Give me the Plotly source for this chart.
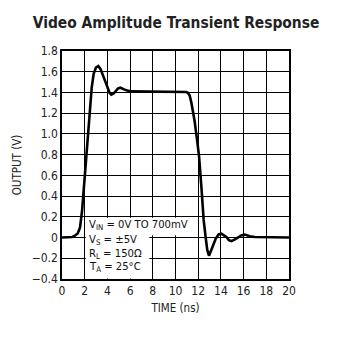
import plotly.graph_objects as go

# Data
time_ns = [0, 0.6, 0.9, 1.1, 1.25, 1.38, 1.5, 1.59, 1.77, 2.0, 2.2, 2.44, 2.62, 2.79, 2.99, 3.2,
           3.4, 3.61, 3.85, 4.05, 4.2, 4.35, 4.55, 4.79, 4.95, 5.14, 5.4, 5.67, 6.11, 8.0, 10.0,
           10.96, 11.1, 11.25, 11.4, 11.55, 11.69, 11.89, 12.07, 12.28, 12.48, 12.66, 12.8, 12.95,
           13.1, 13.3, 13.55, 13.8, 14.04, 14.25, 14.48, 14.7, 14.92, 15.2, 15.5, 15.8, 16.1,
           16.54, 17.0, 18.0, 20.0]
output_v = [0, 0.0, 0.005, 0.015, 0.025, 0.04, 0.07, 0.10, 0.26, 0.584, 0.906, 1.228, 1.45, 1.58, 1.64, 1.655,
            1.625, 1.565, 1.49, 1.437, 1.395, 1.379, 1.39, 1.42, 1.44, 1.446, 1.435, 1.42, 1.41, 1.407, 1.405,
            1.404, 1.395, 1.37, 1.30, 1.21, 1.12, 0.95, 0.79, 0.49, 0.17, 0.0, -0.12, -0.175,
            -0.14, -0.08, -0.01, 0.03, 0.037, 0.025, 0.005, -0.025, -0.034, -0.02, 0.0, 0.02, 0.028,
            0.012, 0.005, 0.002, 0.0]

x_ticks = [0, 2, 4, 6, 8, 10, 12, 14, 16, 18, 20]
y_ticks = [-0.4, -0.2, 0, 0.2, 0.4, 0.6, 0.8, 1.0, 1.2, 1.4, 1.6, 1.8]
y_ticktext = ["\u22120.4", "\u22120.2", "0", "0.2", "0.4", "0.6", "0.8", "1.0", "1.2", "1.4", "1.6", "1.8"]

notes = ["V<sub>IN</sub> = 0V TO 700mV", "V<sub>S</sub> = \u00b15V",
         "R<sub>L</sub> = 150\u03a9", "T<sub>A</sub> = 25\u00b0C"]
note_y = [0.117, -0.027, -0.156, -0.285]

FONT = "DejaVu Sans Condensed, sans-serif"

fig = go.Figure()
fig.add_trace(go.Scatter(x=time_ns, y=output_v, mode="lines",
                         line=dict(color="black", width=2.6), hoverinfo="skip"))

# white masks behind the condition text
fig.add_shape(type="rect", xref="x", yref="y", x0=2.09, x1=10.75, y0=0.021, y1=0.19,
              fillcolor="white", line=dict(width=0), layer="between")
fig.add_shape(type="rect", xref="x", yref="y", x0=2.09, x1=7.7, y0=-0.396, y1=0.03,
              fillcolor="white", line=dict(width=0), layer="between")

for txt, yy in zip(notes, note_y):
    fig.add_annotation(x=2.22, y=yy, xref="x", yref="y", text=txt, showarrow=False,
                       xanchor="left", yanchor="middle",
                       font=dict(family=FONT, size=11.2, color="#111"))

fig.update_layout(
    width=350, height=342,
    margin=dict(l=62, r=61, t=51, b=63),
    paper_bgcolor="white", plot_bgcolor="white",
    showlegend=False,
    title=dict(text="<b>Video Amplitude Transient Response</b>", x=0.503, xanchor="center",
               y=1 - 23 / 342, yanchor="middle",
               font=dict(family=FONT, size=15.4, color="#222")),
)
fig.update_xaxes(range=[0, 20], tickvals=x_ticks, ticktext=[str(v) for v in x_ticks],
                 showgrid=True, gridcolor="black", gridwidth=1.2,
                 showline=True, linecolor="black", linewidth=1.5, mirror=True,
                 ticks="", zeroline=False,
                 tickfont=dict(family=FONT, size=12, color="#222"),
                 title=dict(text="TIME (ns)", font=dict(family=FONT, size=11.5, color="#222"), standoff=7))
fig.update_yaxes(range=[-0.4, 1.8], tickvals=y_ticks, ticktext=y_ticktext,
                 showgrid=True, gridcolor="black", gridwidth=1.2,
                 showline=True, linecolor="black", linewidth=1.5, mirror=True,
                 ticks="", zeroline=False,
                 tickfont=dict(family=FONT, size=12, color="#222"),
                 title=dict(text="OUTPUT (V)", font=dict(family=FONT, size=11.5, color="#222"), standoff=8))

fig.write_html("out.html")
